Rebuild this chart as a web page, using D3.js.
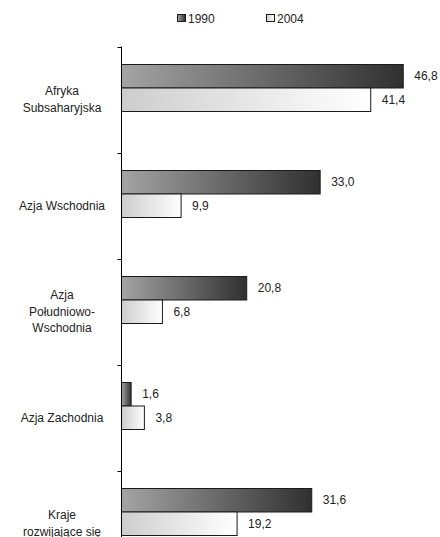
<!DOCTYPE html>
<html>
<head>
<meta charset="utf-8">
<script src="https://cdn.jsdelivr.net/npm/d3@7/dist/d3.min.js"></script>
<style>
  html, body { margin: 0; padding: 0; background: #fff; }
  svg { display: block; font-family: "Liberation Sans", Arial, sans-serif; }
</style>
</head>
<body>
<svg id="chart" width="440" height="537"></svg>
<script>
// Categories (top to bottom) and how their labels break into lines
const categories = ["Afryka Subsaharyjska", "Azja Wschodnia", "Azja Południowo-Wschodnia", "Azja Zachodnia", "Kraje rozwijające się"];
const categoryLines = [["Afryka", "Subsaharyjska"], ["Azja Wschodnia"], ["Azja", "Południowo-", "Wschodnia"], ["Azja Zachodnia"], ["Kraje", "rozwijające się"]];
const seriesNames = ["1990", "2004"];
const values1990 = [46.8, 33.0, 20.8, 1.6, 31.6];
const values2004 = [41.4, 9.9, 6.8, 3.8, 19.2];

const svg = d3.select("#chart");
const textColor = "#222";

// Gradients: 1990 dark grey ramp, 2004 light ramp fading to white
const defs = svg.append("defs");
const gradSpecs = [
  { id: "g1990", from: "#a4a4a4", to: "#303030" },
  { id: "g2004", from: "#cdcdcd", to: "#ffffff" }
];
gradSpecs.forEach(g => {
  const lg = defs.append("linearGradient").attr("id", g.id)
    .attr("x1", "0").attr("y1", "0").attr("x2", "1").attr("y2", "0");
  lg.append("stop").attr("offset", "0%").attr("stop-color", g.from);
  lg.append("stop").attr("offset", "100%").attr("stop-color", g.to);
});

const x = d3.scaleLinear().domain([0, 50]).range([121.5, 422.5]);
const y = d3.scaleBand().domain(categories).range([46.5, 576.5]);
const ySub = d3.scaleBand().domain(seriesNames).range([18, 65]);

const rows = categories.map((c, i) => ({
  cat: c,
  lines: categoryLines[i],
  bars: [
    { series: "1990", value: values1990[i], fill: "url(#g1990)" },
    { series: "2004", value: values2004[i], fill: "url(#g2004)" }
  ]
}));

const fmt = v => d3.format(".1f")(v).replace(".", ",");

// Bars
const groups = svg.append("g").selectAll("g.row").data(rows).join("g")
  .attr("class", "row")
  .attr("transform", d => `translate(0,${y(d.cat)})`);

groups.selectAll("rect").data(d => d.bars).join("rect")
  .attr("x", x(0))
  .attr("y", d => ySub(d.series))
  .attr("width", d => x(d.value) - x(0))
  .attr("height", ySub.bandwidth())
  .attr("fill", d => d.fill)
  .attr("stroke", "#1a1a1a")
  .attr("stroke-width", 1);

// Value labels
groups.selectAll("text.val").data(d => d.bars).join("text")
  .attr("class", "val")
  .attr("x", d => x(d.value) + 11)
  .attr("y", d => ySub(d.series) + ySub.bandwidth() / 2)
  .attr("dy", "0.35em")
  .attr("font-size", 12)
  .attr("fill", textColor)
  .text(d => fmt(d.value));

// Category labels, centred in each band
const lineH = 16.5;
groups.each(function(d) {
  const g = d3.select(this);
  const n = d.lines.length;
  const mid = y.bandwidth() / 2;
  d.lines.forEach((ln, k) => {
    g.append("text")
      .attr("x", 62)
      .attr("y", mid + (k - (n - 1) / 2) * lineH)
      .attr("dy", "0.35em")
      .attr("text-anchor", "middle")
      .attr("font-size", 12)
      .attr("fill", textColor)
      .text(ln);
  });
});

// Category axis: line with ticks on band boundaries
const axis = svg.append("g").attr("stroke", "#000").attr("stroke-width", 1);
axis.append("line")
  .attr("x1", x(0)).attr("x2", x(0))
  .attr("y1", y.range()[0]).attr("y2", y.range()[1]);
const boundaries = categories.map(c => y(c)).concat([y.range()[1]]);
axis.selectAll("line.tick").data(boundaries).join("line")
  .attr("class", "tick")
  .attr("x1", x(0) - 4).attr("x2", x(0))
  .attr("y1", d => Math.round(d) + 0.5).attr("y2", d => Math.round(d) + 0.5);

// Legend
const legendX = [177, 266];
const legend = svg.append("g").selectAll("g").data(seriesNames).join("g")
  .attr("transform", (d, i) => `translate(${legendX[i]},0)`);
legend.append("rect")
  .attr("x", 0.5).attr("y", 14.5).attr("width", 8).attr("height", 7)
  .attr("fill", (d, i) => `url(#${gradSpecs[i].id})`)
  .attr("stroke", "#1a1a1a");
legend.append("text")
  .attr("x", 11).attr("y", 18.5).attr("dy", "0.35em")
  .attr("font-size", 12).attr("fill", textColor)
  .text(d => d);
</script>
</body>
</html>
